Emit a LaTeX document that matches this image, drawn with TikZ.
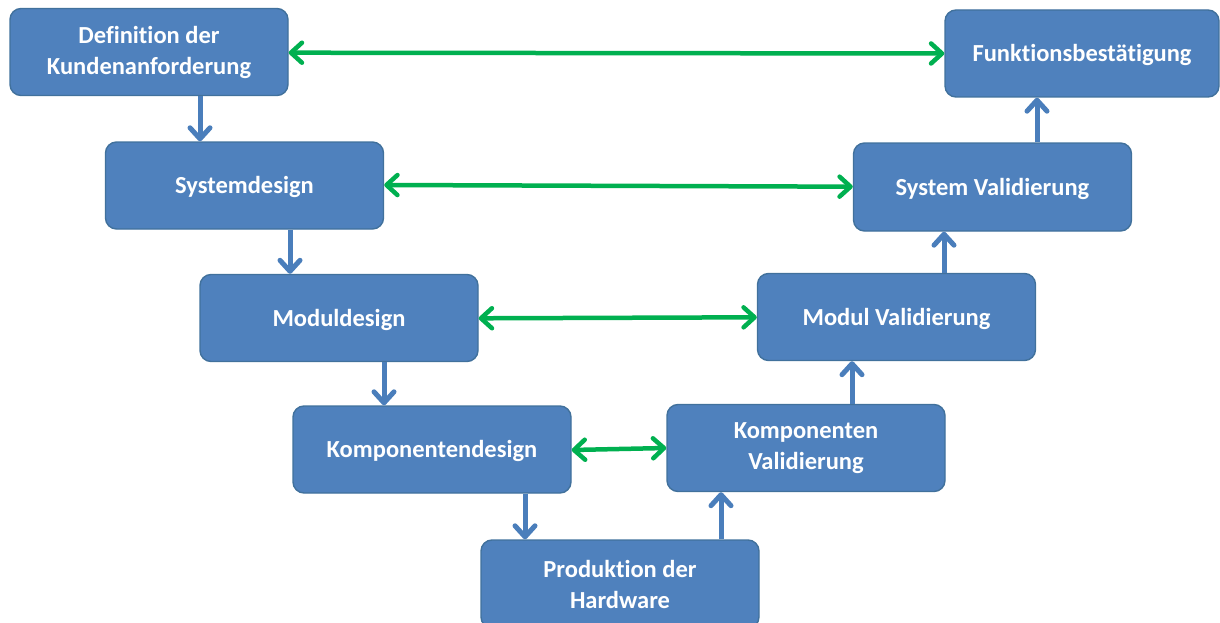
\documentclass[tikz,border=0pt]{standalone}
\usepackage{fontspec}
\setmainfont{Carlito}[Ligatures=NoCommon]
\usetikzlibrary{arrows.meta}
\definecolor{boxfill}{HTML}{4F81BD}
\definecolor{boxline}{HTML}{41719C}
\definecolor{flowblue}{HTML}{4A7EBB}
\definecolor{pairgreen}{HTML}{00B050}
\begin{document}
\begin{tikzpicture}[x=1pt,y=-1pt,
  phase/.style={draw=boxline, line width=1.4pt, fill=boxfill, rounded corners=11pt,
    text=white, font=\fontsize{24.5}{31}\selectfont\bfseries, align=center,
    minimum width=278pt, minimum height=87pt, inner sep=0pt,
    execute at begin node={\rule{0pt}{20.5pt}}},
  flow/.style={draw=flowblue, line width=5pt,
    -{Straight Barb[length=11pt,width=20pt,round]}},
  pair/.style={draw=pairgreen, line width=4.5pt, line cap=round,
    {Straight Barb[length=11pt,width=20pt,round]}-{Straight Barb[length=11pt,width=20pt,round]}}]
\useasboundingbox (0,0) rectangle (1220,623);

% left branch: specification and design
\node[phase] (def)  at (149,52)    {Definition der\\Kundenanforderung};
\node[phase] (sysd) at (244.5,185.5) {Systemdesign};
\node[phase] (modd) at (339,318)   {Moduldesign};
\node[phase] (kompd) at (432,449.5) {Komponentendesign};
% bottom
\node[phase, minimum height=88pt] (prod) at (620,584) {Produktion der\\Hardware};
% right branch: validation
\node[phase] (kompv) at (806,448)  {Komponenten\\Validierung};
\node[phase] (modv) at (896.5,317) {Modul Validierung};
\node[phase, minimum height=88pt] (sysv) at (992.5,187) {System Validierung};
\node[phase, minimum width=274pt] (funk) at (1082,53.5) {Funktionsbestätigung};

% process flow
\draw[flow] (def.south -| 200,0)   -- (sysd.north -| 200,0);
\draw[flow] (sysd.south -| 290,0)  -- (modd.north -| 290,0);
\draw[flow] (modd.south -| 384,0)  -- (kompd.north -| 384,0);
\draw[flow] (kompd.south -| 525,0) -- (prod.north -| 525,0);
\draw[flow] (prod.north -| 721,0)  -- (kompv.south -| 721,0);
\draw[flow] (kompv.north -| 852,0) -- (modv.south -| 852,0);
\draw[flow] (modv.north -| 944,0)  -- (sysv.south -| 944,0);
\draw[flow] (sysv.north -| 1037,0) -- (funk.south -| 1037,0);

% correspondence between design and validation levels
\draw[pair] (def.east |- 0,52.7)   -- (funk.west |- 0,53.5);
\draw[pair] (sysd.east |- 0,185)   -- (sysv.west |- 0,186.7);
\draw[pair] (modd.east |- 0,318.3) -- (modv.west |- 0,317.3);
\draw[pair] (kompd.east |- 0,450)  -- (kompv.west |- 0,448);
\end{tikzpicture}
\end{document}
